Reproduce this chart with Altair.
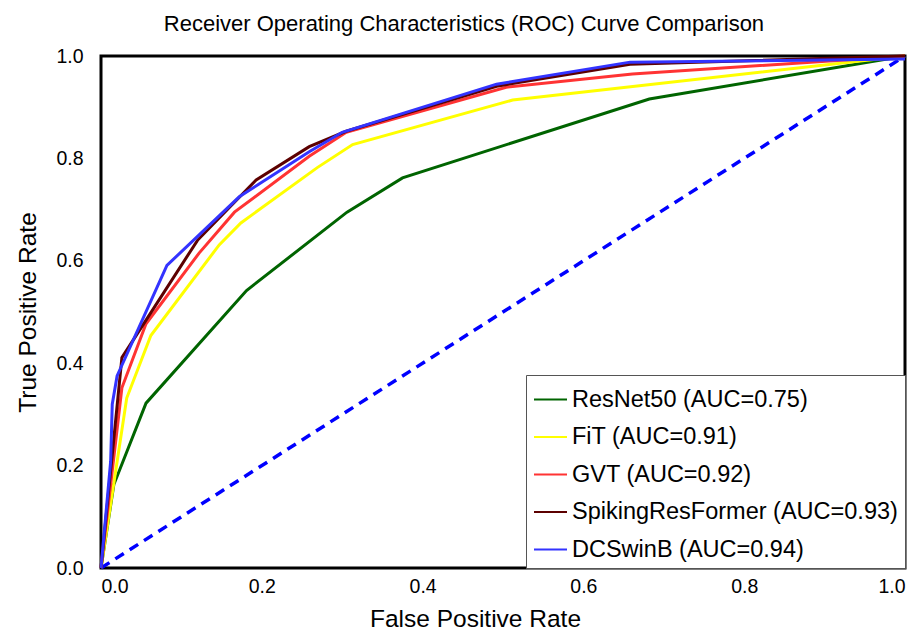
import altair as alt
import pandas as pd

models = ["ResNet50 (AUC=0.75)", "FiT (AUC=0.91)", "GVT (AUC=0.92)",
          "SpikingResFormer (AUC=0.93)", "DCSwinB (AUC=0.94)"]
colors = ["#006400", "#ffff00", "#ff3333", "#5c0000", "#3333ff"]

resnet_fpr = [0, 0.016, 0.056, 0.181, 0.306, 0.375, 0.682, 1.0]
resnet_tpr = [0, 0.163, 0.322, 0.542, 0.695, 0.762, 0.916, 1.0]
fit_fpr = [0, 0.032, 0.062, 0.147, 0.174, 0.269, 0.313, 0.512, 1.0]
fit_tpr = [0, 0.332, 0.454, 0.631, 0.674, 0.782, 0.827, 0.914, 1.0]
gvt_fpr = [0, 0.026, 0.056, 0.122, 0.166, 0.259, 0.305, 0.504, 0.661, 1.0]
gvt_tpr = [0, 0.352, 0.477, 0.615, 0.695, 0.804, 0.851, 0.939, 0.965, 1.0]
srf_fpr = [0, 0.026, 0.120, 0.193, 0.259, 0.305, 0.492, 0.658, 1.0]
srf_tpr = [0, 0.411, 0.640, 0.758, 0.823, 0.853, 0.941, 0.984, 1.0]
dcs_fpr = [0, 0.012, 0.014, 0.020, 0.082, 0.172, 0.259, 0.300, 0.492, 0.658, 1.0]
dcs_tpr = [0, 0.208, 0.320, 0.375, 0.591, 0.725, 0.813, 0.851, 0.945, 0.988, 0.994]

diag_fpr = [0, 1]
diag_tpr = [0, 1]

rows = []
for k, (m, fx, ty) in enumerate(zip(models,
                                    [resnet_fpr, fit_fpr, gvt_fpr, srf_fpr, dcs_fpr],
                                    [resnet_tpr, fit_tpr, gvt_tpr, srf_tpr, dcs_tpr])):
    for i, (a, b) in enumerate(zip(fx, ty)):
        rows.append({"model": m, "fpr": a, "tpr": b, "idx": i, "layer": k})
df = pd.DataFrame(rows)
diag = pd.DataFrame({"fpr": diag_fpr, "tpr": diag_tpr})

FONT = "Liberation Sans"
ticks = [0.0, 0.2, 0.4, 0.6, 0.8, 1.0]

xenc = alt.X("fpr:Q", scale=alt.Scale(domain=[0, 1], nice=False),
             axis=alt.Axis(title="False Positive Rate", values=ticks, format=".1f",
                           ticks=False, domain=False, grid=False,
                           labelPadding=9, titlePadding=12, titleX=374))
yenc = alt.Y("tpr:Q", scale=alt.Scale(domain=[0, 1], nice=False),
             axis=alt.Axis(title="True Positive Rate", values=ticks, format=".1f",
                           ticks=False, domain=False, grid=False,
                           labelPadding=18, titlePadding=15))

lines = alt.Chart(df).mark_line(strokeWidth=3).encode(
    x=xenc, y=yenc,
    color=alt.Color("model:N", scale=alt.Scale(domain=models, range=colors),
                    sort=models,
                    legend=alt.Legend(title=None, orient="bottom-right", offset=0,
                                      symbolType="stroke", symbolSize=1089,
                                      symbolStrokeWidth=2, labelFontSize=23.5,
                                      labelFont=FONT, labelColor="black",
                                      strokeColor="#555555", fillColor="white",
                                      padding=7, rowPadding=8.5, labelLimit=420,
                                      labelOffset=4)),
    detail="model:N",
    order="idx:Q",
)

diag_line = alt.Chart(diag).mark_line(color="#0000ff", strokeWidth=3.5,
                                      strokeDash=[10, 7]).encode(x="fpr:Q", y="tpr:Q")

chart = alt.layer(diag_line, lines).properties(
    width=804, height=512,
    autosize=alt.AutoSizeParams(type="none"),
    padding={"left": 93, "top": 48, "right": 7, "bottom": 66},
    title=alt.Title("Receiver Operating Characteristics (ROC) Curve Comparison",
                    fontSize=22, fontWeight="normal", font=FONT, anchor="middle",
                    frame="bounds", offset=10, color="black"),
).configure_view(stroke="black", strokeWidth=3).configure_axis(
    labelFont=FONT, labelFontSize=19.5, labelColor="black",
    titleFont=FONT, titleFontSize=24.5, titleFontWeight="normal", titleColor="black",
)

chart.save("out.html", embed_options={"renderer": "svg", "actions": False})
